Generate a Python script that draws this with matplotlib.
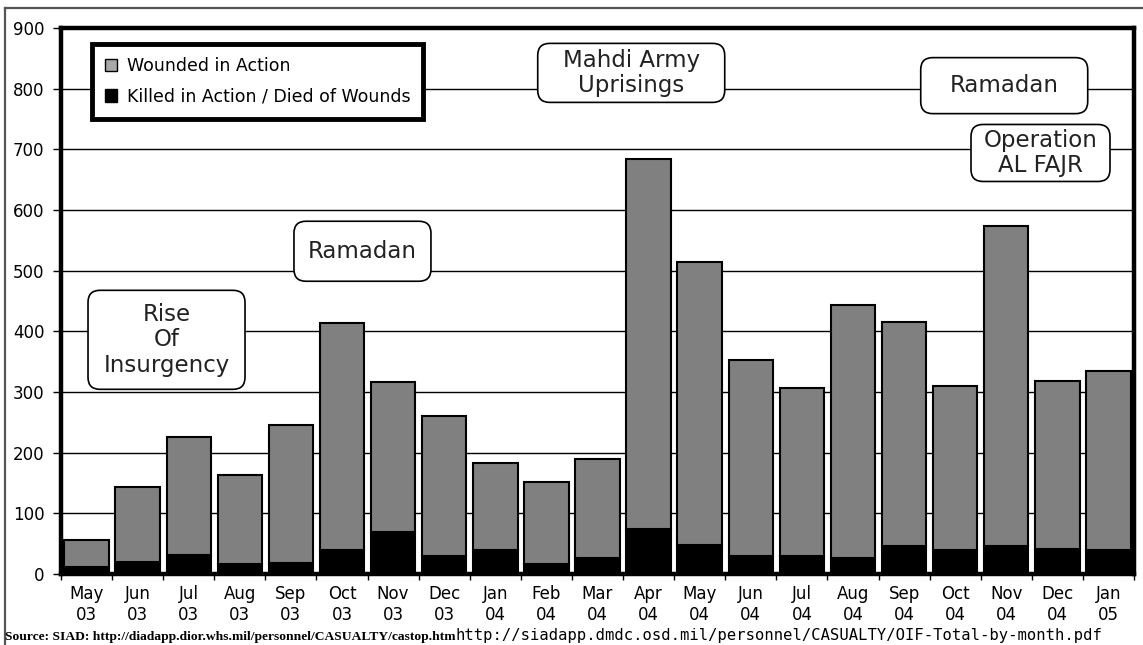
"""
Bajas mensuales de EE.UU. en Irak, mayo 2003 - enero 2005
"""

import numpy as np
import matplotlib
matplotlib.use("Agg")
import matplotlib.pyplot as plt
from matplotlib.patches import Patch, FancyBboxPatch
from matplotlib.lines import Line2D
from matplotlib.transforms import IdentityTransform

# Datos por mes
meses = ["May\n03", "Jun\n03", "Jul\n03", "Aug\n03", "Sep\n03", "Oct\n03", "Nov\n03",
         "Dec\n03", "Jan\n04", "Feb\n04", "Mar\n04", "Apr\n04", "May\n04", "Jun\n04",
         "Jul\n04", "Aug\n04", "Sep\n04", "Oct\n04", "Nov\n04", "Dec\n04", "Jan\n05"]
muertos = [11, 20, 31, 16, 18, 39, 69, 29, 40, 16, 26, 74, 47, 30, 29, 27, 46, 40, 46, 42, 40]
heridos = [45, 124, 194, 148, 227, 374, 248, 231, 143, 136, 164, 610, 467, 322, 277, 416,
           369, 270, 528, 276, 294]
y_ticks = [0, 100, 200, 300, 400, 500, 600, 700, 800, 900]

# Eventos marcados sobre la grafica: (texto, x, y, ancho px, alto px)
eventos = [
    ("Rise\nOf\nInsurgency", 1.565, 386, 157, 99),
    ("Ramadan", 5.40, 532, 137, 60),
    ("Mahdi Army\nUprisings", 10.66, 826, 187, 59),
    ("Ramadan", 17.96, 805, 167, 56),
    ("Operation\nAL FAJR", 18.67, 694, 139, 57),
]

FONT = "DejaVu Sans"
plt.rcParams["font.family"] = FONT

W, H = 1143, 645
fig = plt.figure(figsize=(W / 100, H / 100), dpi=100)
ax = fig.add_axes([61 / W, 1 - 574 / H, (1134 - 61) / W, (574 - 28) / H])

x = np.arange(len(meses))
ancho = 0.87

# Barras apiladas: muertos abajo, heridos encima
ax.bar(x, muertos, width=ancho, color="black", edgecolor="black", linewidth=1.5, zorder=3)
ax.bar(x, heridos, bottom=muertos, width=ancho, color="#808080",
       edgecolor="black", linewidth=1.5, zorder=3)

ax.set_xlim(-0.5, len(meses) - 0.5)
ax.set_ylim(0, 900)
ax.set_yticks(y_ticks)
ax.tick_params(axis="y", direction="out", length=6, width=1, pad=6, labelsize=12)
ax.yaxis.grid(True, color="black", linewidth=1.0, zorder=0)
ax.set_axisbelow(True)

ax.set_xticks(x)
ax.set_xticklabels(meses, fontsize=12, linespacing=1.2)
ax.tick_params(axis="x", length=0, pad=8)
ax.set_xticks(np.arange(-0.5, len(meses), 1), minor=True)
ax.tick_params(axis="x", which="minor", direction="out", length=4, width=1)

for lado in ["left", "top", "right", "bottom"]:
    ax.spines[lado].set_linewidth(3.2)
    ax.spines[lado].set_color("black")

# Cuadros redondeados con los eventos (tamano fijo en pixeles)
for texto, ex, ey, bw, bh in eventos:
    cx, cy = ax.transData.transform((ex, ey))
    caja = FancyBboxPatch((cx - bw / 2, cy - bh / 2), bw, bh,
                          boxstyle="round,pad=0,rounding_size=12",
                          transform=IdentityTransform(), fc="white", ec="black",
                          lw=1.2, zorder=5)
    fig.add_artist(caja)
    fig.text(cx / W, cy / H, texto, ha="center", va="center", fontsize=16.5,
             color="#222222", linespacing=1.15, zorder=6)

# Leyenda
handles = [Patch(facecolor="#a8a8a8", edgecolor="black", linewidth=1.0),
           Patch(facecolor="black", edgecolor="black", linewidth=1.0)]
etiquetas = ["Wounded in Action", "Killed in Action / Died of Wounds"]
leg = ax.legend(handles, etiquetas, loc="upper left",
                bbox_to_anchor=(92 / W, 1 - 44 / H), bbox_transform=fig.transFigure,
                fontsize=12.5, frameon=True, fancybox=False, framealpha=1,
                edgecolor="black", borderaxespad=0, borderpad=0.75,
                handlelength=0.7, handleheight=0.7, handletextpad=0.55,
                labelspacing=0.72)
leg.get_frame().set_linewidth(3.5)
leg.set_zorder(6)

# Marco exterior (linea superior e izquierda)
fig.add_artist(Line2D([5 / W, 1], [1 - 8 / H, 1 - 8 / H], transform=fig.transFigure,
                      color="#555555", linewidth=1.6))
fig.add_artist(Line2D([5 / W, 5 / W], [0, 1 - 8 / H], transform=fig.transFigure,
                      color="#555555", linewidth=1.6))

# Fuente de los datos
t1 = fig.text(5 / W, 1 - 640 / H,
              "Source: SIAD: http://diadapp.dior.whs.mil/personnel/CASUALTY/castop.htm",
              fontsize=9.7, fontweight="bold", family="Liberation Serif", va="baseline")
ax.annotate("http://siadapp.dmdc.osd.mil/personnel/CASUALTY/OIF-Total-by-month.pdf",
            xy=(1, 0), xycoords=t1, ha="left", va="bottom", fontsize=11.2,
            family="DejaVu Sans Mono", annotation_clip=False)

fig.savefig("out.png", dpi=100)
plt.close(fig)
